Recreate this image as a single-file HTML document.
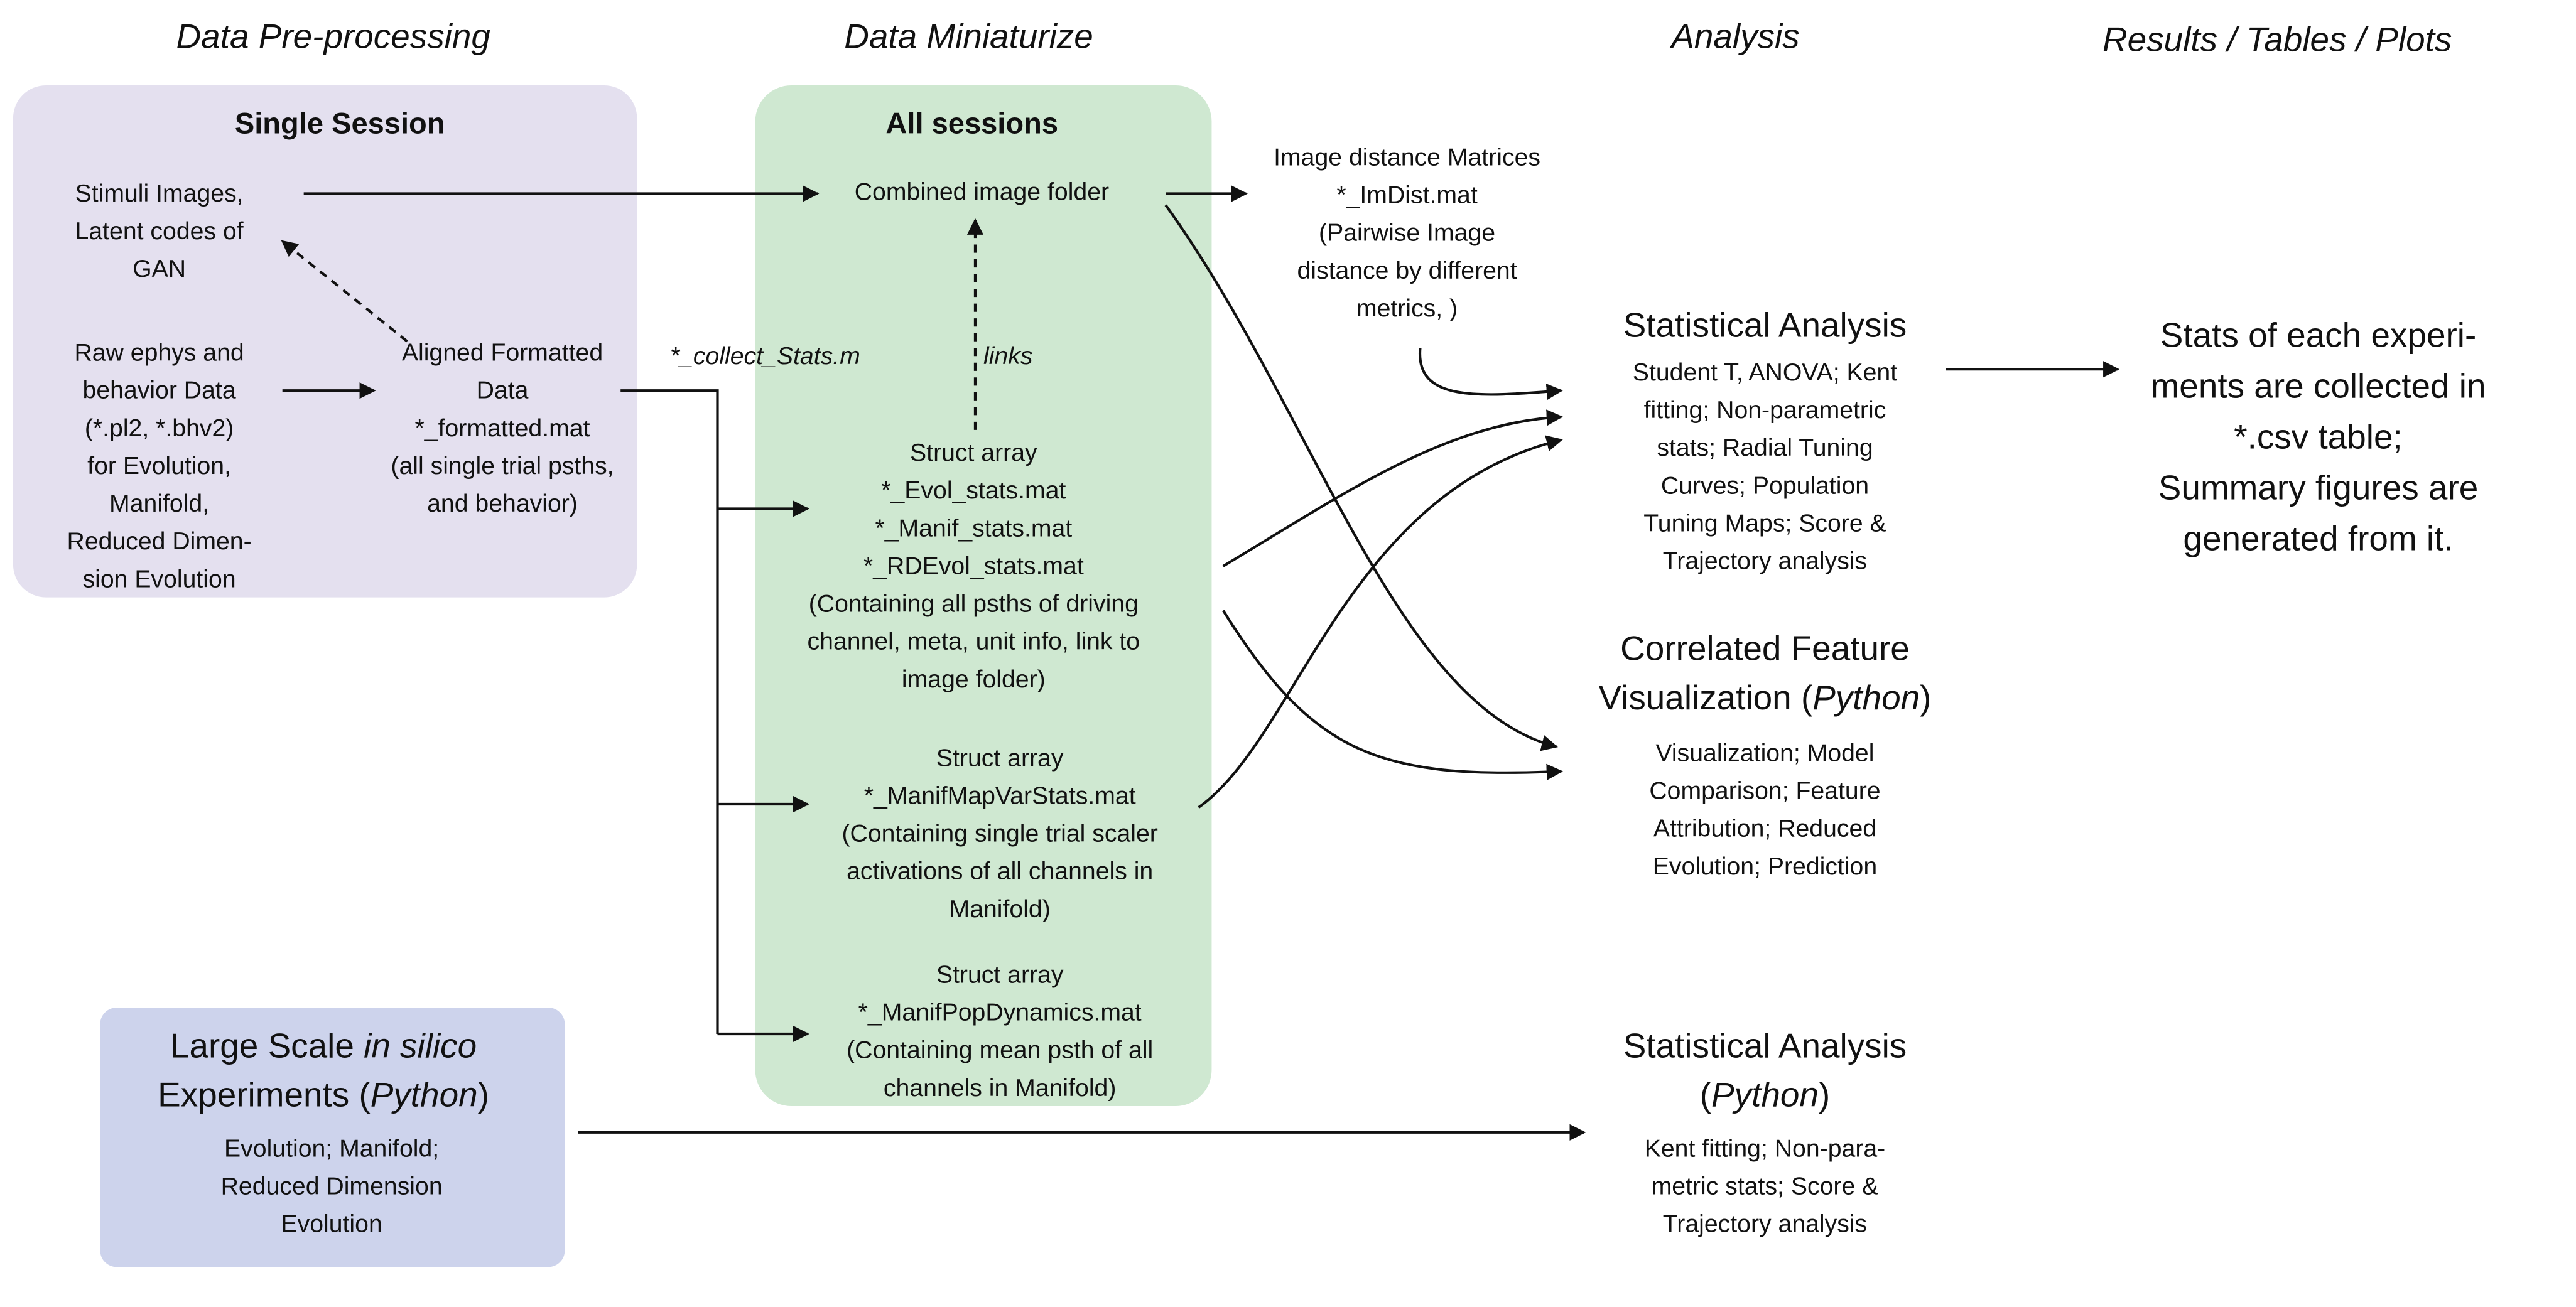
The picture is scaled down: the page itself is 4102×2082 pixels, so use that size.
<!DOCTYPE html>
<html><head><meta charset="utf-8"><style>
html,body{margin:0;padding:0;background:#fff;}
svg{display:block;}
text{font-family:"Liberation Sans",sans-serif;fill:#111;dominant-baseline:central;text-anchor:middle;}
.b{font-size:15px;}
.h{font-size:21px;font-style:italic;}
.t{font-size:21px;}
</style></head><body>
<svg width="4102" height="2082" viewBox="0 0 1569 796.4" preserveAspectRatio="none" xmlns="http://www.w3.org/2000/svg">
<defs><marker id="a" markerWidth="10" markerHeight="10" refX="9" refY="5" orient="auto" markerUnits="userSpaceOnUse"><path d="M0,0 L10,5 L0,10 z" fill="#111"/></marker></defs>
<rect x="8" y="52" width="380" height="312" rx="20" fill="#e4e0ef"/>
<rect x="460" y="52" width="278" height="622" rx="22" fill="#cfe8d1"/>
<rect x="61" y="614" width="283" height="158" rx="10" fill="#cdd3ec"/>
<text class="h" x="203" y="22">Data Pre-processing</text>
<text class="h" x="590" y="22">Data Miniaturize</text>
<text class="h" x="1057" y="22">Analysis</text>
<text class="h" x="1387" y="24">Results / Tables / Plots</text>
<text x="207" y="75" style="font-size:18px;font-weight:bold">Single Session</text>
<text x="592" y="75" style="font-size:18px;font-weight:bold">All sessions</text>
<g class="b">
<text x="97" y="118">Stimuli Images,</text><text x="97" y="141">Latent codes of</text><text x="97" y="164">GAN</text>
<text x="97" y="215">Raw ephys and</text><text x="97" y="238">behavior Data</text><text x="97" y="261">(*.pl2, *.bhv2)</text><text x="97" y="284">for Evolution,</text><text x="97" y="307">Manifold,</text><text x="97" y="330">Reduced Dimen-</text><text x="97" y="353">sion Evolution</text>
<text x="306" y="215">Aligned Formatted</text><text x="306" y="238">Data</text><text x="306" y="261">*_formatted.mat</text><text x="306" y="284">(all single trial psths,</text><text x="306" y="307">and behavior)</text>
<text x="466" y="217" style="font-style:italic">*_collect_Stats.m</text>
<text x="614" y="217" style="font-style:italic">links</text>
<text x="598" y="117">Combined image folder</text>
<text x="593" y="276">Struct array</text><text x="593" y="299">*_Evol_stats.mat</text><text x="593" y="322">*_Manif_stats.mat</text><text x="593" y="345">*_RDEvol_stats.mat</text><text x="593" y="368">(Containing all psths of driving</text><text x="593" y="391">channel, meta, unit info, link to</text><text x="593" y="414">image folder)</text>
<text x="609" y="462">Struct array</text><text x="609" y="485">*_ManifMapVarStats.mat</text><text x="609" y="508">(Containing single trial scaler</text><text x="609" y="531">activations of all channels in</text><text x="609" y="554">Manifold)</text>
<text x="609" y="594">Struct array</text><text x="609" y="617">*_ManifPopDynamics.mat</text><text x="609" y="640">(Containing mean psth of all</text><text x="609" y="663">channels in Manifold)</text>
<text x="857" y="96">Image distance Matrices</text><text x="857" y="119">*_ImDist.mat</text><text x="857" y="142">(Pairwise Image</text><text x="857" y="165">distance by different</text><text x="857" y="188">metrics, )</text>
<text x="1075" y="227">Student T, ANOVA; Kent</text><text x="1075" y="250">fitting; Non-parametric</text><text x="1075" y="273">stats; Radial Tuning</text><text x="1075" y="296">Curves; Population</text><text x="1075" y="319">Tuning Maps; Score &amp;</text><text x="1075" y="342">Trajectory analysis</text>
<text x="1075" y="459">Visualization; Model</text><text x="1075" y="482">Comparison; Feature</text><text x="1075" y="505">Attribution; Reduced</text><text x="1075" y="528">Evolution; Prediction</text>
<text x="1075" y="700">Kent fitting; Non-para-</text><text x="1075" y="723">metric stats; Score &amp;</text><text x="1075" y="746">Trajectory analysis</text>
<text x="202" y="700">Evolution; Manifold;</text><text x="202" y="723">Reduced Dimension</text><text x="202" y="746">Evolution</text>
</g>
<g class="t">
<text x="1075" y="198">Statistical Analysis</text>
<text x="1075" y="395">Correlated Feature</text>
<text x="1075" y="425">Visualization (<tspan font-style="italic">Python</tspan>)</text>
<text x="1075" y="637">Statistical Analysis</text>
<text x="1075" y="667">(<tspan font-style="italic">Python</tspan>)</text>
<text x="197" y="637">Large Scale <tspan font-style="italic">in silico</tspan></text>
<text x="197" y="667">Experiments (<tspan font-style="italic">Python</tspan>)</text>
<text x="1412" y="204">Stats of each experi-</text><text x="1412" y="235">ments are collected in</text><text x="1412" y="266">*.csv table;</text><text x="1412" y="297">Summary figures are</text><text x="1412" y="328">generated from it.</text>
</g>
<g fill="none" stroke="#111" stroke-width="1.6">
<path d="M185,118 H498" marker-end="url(#a)"/>
<path d="M710,118 H759" marker-end="url(#a)"/>
<path d="M594,262 V134" stroke-dasharray="5,4" marker-end="url(#a)"/>
<path d="M248,208 L172,147" stroke-dasharray="5,4" marker-end="url(#a)"/>
<path d="M172,238 H228" marker-end="url(#a)"/>
<path d="M378,238 H437 V630"/>
<path d="M437,310 H492" marker-end="url(#a)"/>
<path d="M437,490 H492" marker-end="url(#a)"/>
<path d="M437,630 H492" marker-end="url(#a)"/>
<path d="M710,125 C800,250 850,430 948,455" marker-end="url(#a)"/>
<path d="M865,212 C862,245 900,242 951,238" marker-end="url(#a)"/>
<path d="M745,345 C820,300 880,258 951,254" marker-end="url(#a)"/>
<path d="M745,372 C800,460 840,475 951,470" marker-end="url(#a)"/>
<path d="M730,492 C790,450 820,300 951,268" marker-end="url(#a)"/>
<path d="M1185,225 H1290" marker-end="url(#a)"/>
<path d="M352,690 H965" marker-end="url(#a)"/>
</g>
</svg>
</body></html>
